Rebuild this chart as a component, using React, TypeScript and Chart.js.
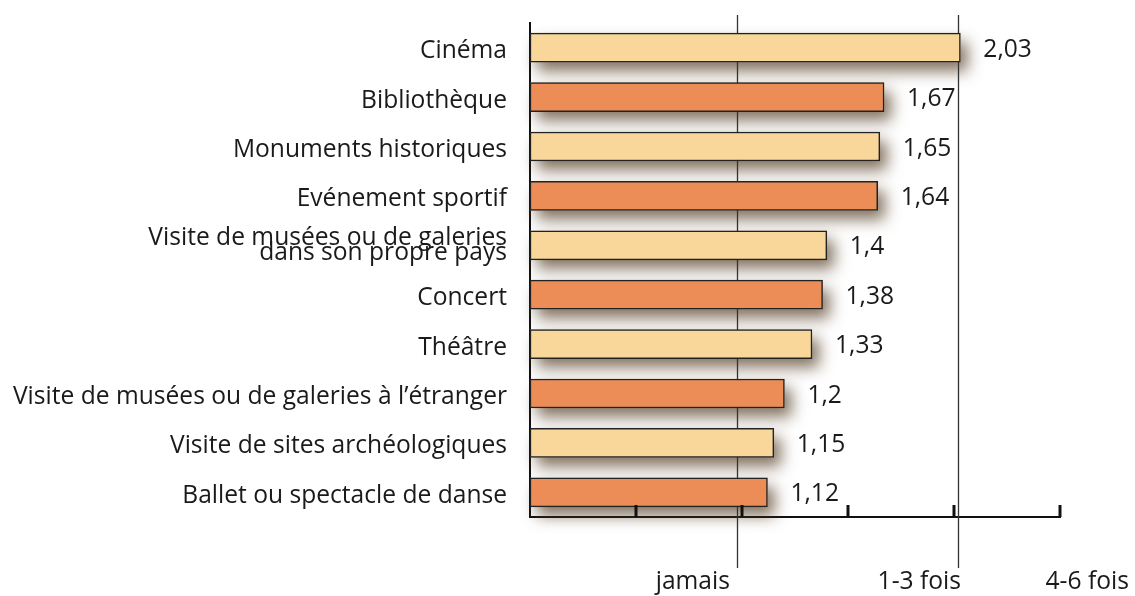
import React, { useEffect, useRef } from "react";
import { Chart, registerables } from "chart.js";

Chart.register(...registerables);

const categories: (string | string[])[] = [
  "Cinéma",
  "Bibliothèque",
  "Monuments historiques",
  "Evénement sportif",
  ["Visite de musées ou de galeries", "dans son propre pays"],
  "Concert",
  "Théâtre",
  "Visite de musées ou de galeries à l’étranger",
  "Visite de sites archéologiques",
  "Ballet ou spectacle de danse",
];
const values = [2.03, 1.67, 1.65, 1.64, 1.4, 1.38, 1.33, 1.2, 1.15, 1.12];
const valueLabels = ["2,03", "1,67", "1,65", "1,64", "1,4", "1,38", "1,33", "1,2", "1,15", "1,12"];
const barColors = ["#F9D79B", "#EC8D57"];
const referenceLines = [0.976, 2.02];
const scaleLabels = ["jamais", "1-3 fois", "4-6 fois"];
const scaleLabelAnchors = [0.943, 2.033, 2.825];

const FONT = "'Open Sans', 'Liberation Sans', sans-serif";
const FS = 24.6;

export default function App() {
  const ref = useRef<HTMLCanvasElement>(null);
  useEffect(() => {
    if (!ref.current) return;
    const plugin = {
      id: "custom",
      beforeDatasetsDraw(chart: any) {
        const ctx = chart.ctx;
        const meta = chart.getDatasetMeta(0);
        const x = chart.scales.x;
        ctx.save();
        meta.data.forEach((bar: any) => {
          const left = x.getPixelForValue(0);
          const h = bar.height;
          ctx.shadowColor = "rgba(80,55,30,0.7)";
          ctx.shadowBlur = 15;
          ctx.shadowOffsetX = 7;
          ctx.shadowOffsetY = 9;
          ctx.fillStyle = "#cdbba0";
          ctx.fillRect(left, bar.y - h / 2, bar.x - left, h);
        });
        ctx.restore();
        ctx.save();
        ctx.strokeStyle = "#333";
        ctx.lineWidth = 1.3;
        referenceLines.forEach((v) => {
          const px = Math.round(x.getPixelForValue(v)) + 0.5;
          ctx.beginPath();
          ctx.moveTo(px, 15);
          ctx.lineTo(px, 568);
          ctx.stroke();
        });
        ctx.restore();
      },
      afterDatasetsDraw(chart: any) {
        const ctx = chart.ctx;
        const meta = chart.getDatasetMeta(0);
        const x = chart.scales.x;
        const area = chart.chartArea;
        ctx.save();
        ctx.font = `${FS}px ${FONT}`;
        ctx.fillStyle = "#1a1a1a";
        ctx.textAlign = "left";
        ctx.textBaseline = "middle";
        meta.data.forEach((bar: any, i: number) => {
          ctx.fillText(valueLabels[i], bar.x + 23, bar.y + 2);
        });
        // category labels
        ctx.textAlign = "right";
        const lx = area.left - 23;
        meta.data.forEach((bar: any, i: number) => {
          const c = categories[i];
          if (Array.isArray(c)) {
            const lh = 15.5;
            const start = bar.y + 0.25 - ((c.length - 1) * lh) / 2;
            c.forEach((line, j) => ctx.fillText(line, lx, start + j * lh));
          } else {
            ctx.fillText(c, lx, bar.y + 3.5);
          }
        });
        ctx.strokeStyle = "#111";
        ctx.lineWidth = 3;
        x.ticks.forEach((t: any) => {
          if (t.value === 0) return;
          const px = x.getPixelForValue(t.value);
          ctx.beginPath();
          ctx.moveTo(px, area.bottom);
          ctx.lineTo(px, area.bottom - 12);
          ctx.stroke();
        });
        ctx.textAlign = "right";
        ctx.textBaseline = "alphabetic";
        scaleLabels.forEach((s, i) => {
          ctx.fillText(s, x.getPixelForValue(scaleLabelAnchors[i]), 589);
        });
        ctx.restore();
      },
    };
    const chart = new Chart(ref.current, {
      type: "bar",
      data: {
        labels: categories,
        datasets: [
          {
            data: values,
            backgroundColor: values.map((_, i) => barColors[i % 2]),
            borderColor: "#222",
            borderWidth: 1.5,
            borderSkipped: false,
            barThickness: 29,
          },
        ],
      },
      options: {
        indexAxis: "y",
        animation: false,
        responsive: false,
        layout: { padding: { top: 23, right: 75, bottom: 0, left: 0 } },
        plugins: { legend: { display: false }, tooltip: { enabled: false } },
        scales: {
          y: {
            grid: { display: false, drawTicks: false },
            border: { display: true, color: "#111", width: 2 },
            ticks: { display: false },
            afterFit(scale: any) {
              scale.width = 530;
              scale.paddingTop = 0;
              scale.paddingBottom = 0;
            },
          },
          x: {
            min: 0,
            max: 2.5,
            grid: { display: false, drawTicks: false },
            border: { display: true, color: "#111", width: 2 },
            ticks: { display: false, stepSize: 0.5 },
            afterFit(scale: any) {
              scale.height = 79;
              scale.paddingLeft = 0;
              scale.paddingRight = 0;
            },
          },
        },
      } as any,
      plugins: [plugin],
    });
    return () => chart.destroy();
  }, []);
  return (
    <div style={{ position: "fixed", left: 0, top: 0, width: 1135, height: 596, background: "#fff" }}>
      <canvas ref={ref} width={1135} height={596} style={{ width: 1135, height: 596 }} />
    </div>
  );
}
